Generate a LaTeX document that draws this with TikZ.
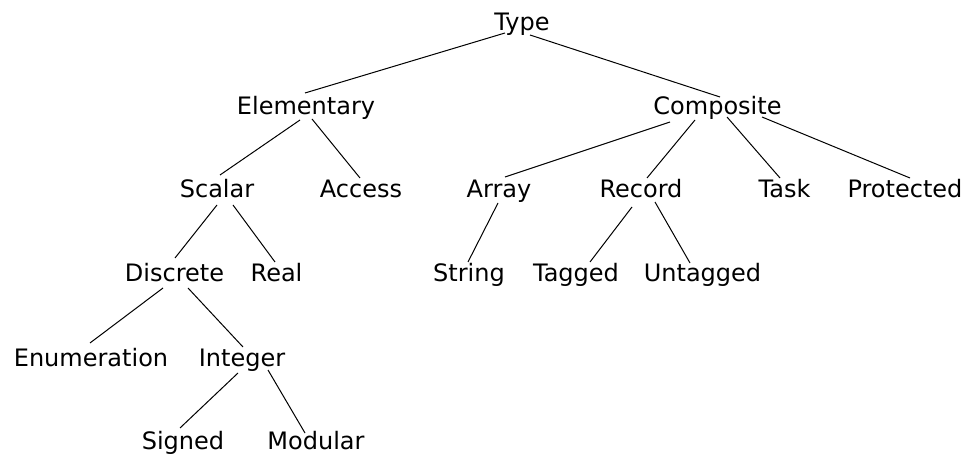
\documentclass[tikz,border=0pt]{standalone}
\usepackage{fontspec}
\setmainfont{DejaVu Sans}
\begin{document}
\begin{tikzpicture}[x=1pt,y=1pt,
  lbl/.style={anchor=base,inner sep=0pt,font=\fontsize{24}{28}\selectfont},
  link/.style={draw=black,line width=1pt}]
\useasboundingbox (0,0) rectangle (972,455);
% type hierarchy labels (base points)
\node[lbl] (type)     at (522,424)   {Type};
\node[lbl] (elem)     at (306,340)   {Elementary};
\node[lbl] (comp)     at (717.5,340) {Composite};
\node[lbl] (scalar)   at (217,257)   {Scalar};
\node[lbl] (access)   at (361,257)   {Access};
\node[lbl] (array)    at (499,257)   {Array};
\node[lbl] (record)   at (641,257)   {Record};
\node[lbl] (task)     at (784.5,257) {Task};
\node[lbl] (prot)     at (905,257)   {Protected};
\node[lbl] (discrete) at (174.5,173) {Discrete};
\node[lbl] (real)     at (276.5,173) {Real};
\node[lbl] (string)   at (469,173)   {String};
\node[lbl] (tagged)   at (576,173)   {Tagged};
\node[lbl] (untagged) at (702.5,173) {Untagged};
\node[lbl] (enum)     at (91,88)     {Enumeration};
\node[lbl] (integer)  at (242,88)    {Integer};
\node[lbl] (signed)   at (183,5)     {Signed};
\node[lbl] (modular)  at (316,5)     {Modular};
% connectors
\draw[link] ([shift={(-17,-2)}]type.base)   -- ([shift={(-1,22)}]elem.base);
\draw[link] ([shift={(8,-4)}]type.base)     -- ([shift={(2.5,18)}]comp.base);
\draw[link] ([shift={(-6,-5)}]elem.base)    -- ([shift={(3,23)}]scalar.base);
\draw[link] ([shift={(6,-4)}]elem.base)     -- ([shift={(-1,20)}]access.base);
\draw[link] ([shift={(-47.5,-7)}]comp.base) -- ([shift={(6,21)}]array.base);
\draw[link] ([shift={(-22.5,-5)}]comp.base) -- ([shift={(6,20)}]record.base);
\draw[link] ([shift={(9.5,-2)}]comp.base)   -- ([shift={(-4.5,20)}]task.base);
\draw[link] ([shift={(44.5,-2)}]comp.base)  -- ([shift={(5,20)}]prot.base);
\draw[link] ([shift={(0,-7)}]scalar.base)   -- ([shift={(0.5,24)}]discrete.base);
\draw[link] ([shift={(16,-7)}]scalar.base)  -- ([shift={(-1.5,20)}]real.base);
\draw[link] ([shift={(-1,-5)}]array.base)   -- ([shift={(-1,20)}]string.base);
\draw[link] ([shift={(-9,-9)}]record.base)  -- ([shift={(14,20)}]tagged.base);
\draw[link] ([shift={(14,-4)}]record.base)  -- ([shift={(-12.5,19)}]untagged.base);
\draw[link] ([shift={(-11.5,-6)}]discrete.base) -- ([shift={(-1,24)}]enum.base);
\draw[link] ([shift={(13.5,-6)}]discrete.base)  -- ([shift={(1,20)}]integer.base);
\draw[link] ([shift={(-4,-6)}]integer.base) -- ([shift={(-3,22)}]signed.base);
\draw[link] ([shift={(26,-3)}]integer.base) -- ([shift={(-11,17)}]modular.base);
\end{tikzpicture}
\end{document}
